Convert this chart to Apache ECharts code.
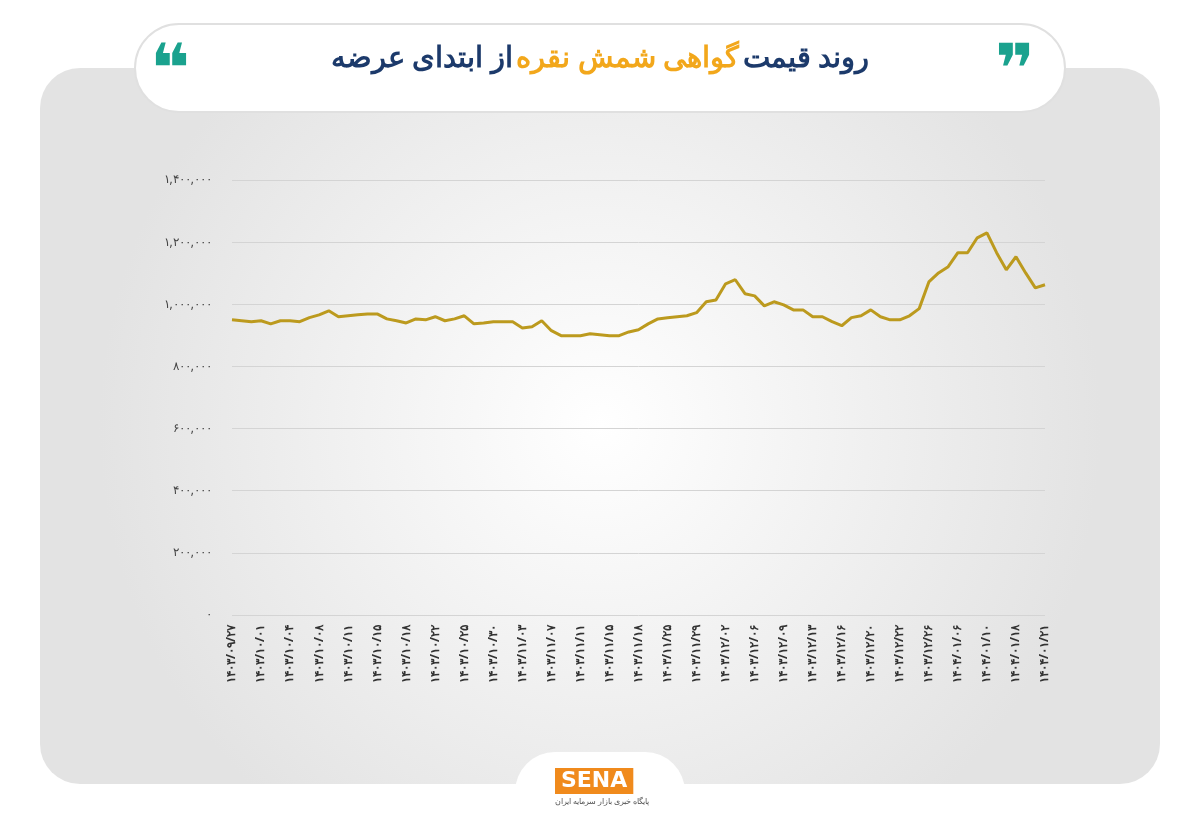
<!DOCTYPE html>
<html lang="fa">
<head>
<meta charset="UTF-8">
<title>روند قیمت گواهی شمش نقره</title>
<script src="https://cdn.jsdelivr.net/npm/echarts@6/dist/echarts.min.js"></script>
<style>
  html, body { margin: 0; padding: 0; background: #fff; }
  #main { width: 1200px; height: 831px; }
</style>
</head>
<body>
<div id="main"></div>
<script>
// x-axis labels (every 3rd point)
const tickLabels = [
  '۱۴۰۳/۰۹/۲۷','۱۴۰۳/۱۰/۰۱','۱۴۰۳/۱۰/۰۴','۱۴۰۳/۱۰/۰۸','۱۴۰۳/۱۰/۱۱','۱۴۰۳/۱۰/۱۵',
  '۱۴۰۳/۱۰/۱۸','۱۴۰۳/۱۰/۲۲','۱۴۰۳/۱۰/۲۵','۱۴۰۳/۱۰/۳۰','۱۴۰۳/۱۱/۰۳','۱۴۰۳/۱۱/۰۷',
  '۱۴۰۳/۱۱/۱۱','۱۴۰۳/۱۱/۱۵','۱۴۰۳/۱۱/۱۸','۱۴۰۳/۱۱/۲۵','۱۴۰۳/۱۱/۲۹','۱۴۰۳/۱۲/۰۲',
  '۱۴۰۳/۱۲/۰۶','۱۴۰۳/۱۲/۰۹','۱۴۰۳/۱۲/۱۳','۱۴۰۳/۱۲/۱۶','۱۴۰۳/۱۲/۲۰','۱۴۰۳/۱۲/۲۲',
  '۱۴۰۳/۱۲/۲۶','۱۴۰۴/۰۱/۰۶','۱۴۰۴/۰۱/۱۰','۱۴۰۴/۰۱/۱۸','۱۴۰۴/۰۱/۲۱'
];

// price values (rial)
const prices = [
  950000, 947000, 944000, 947000, 937000, 947000, 947000, 944000, 957000, 966000,
  979000, 960000, 963000, 966000, 969000, 969000, 953000, 947000, 940000, 953000,
  950000, 960000, 947000, 953000, 963000, 937000, 940000, 944000, 944000, 944000,
  924000, 928000, 947000, 915000, 899000, 899000, 899000, 905000, 902000, 899000,
  899000, 911000, 918000, 937000, 953000, 957000, 960000, 963000, 973000, 1008000,
  1014000, 1066000, 1079000, 1034000, 1027000, 995000, 1008000, 998000, 982000, 982000,
  960000, 960000, 944000, 931000, 957000, 963000, 982000, 960000, 950000, 950000,
  963000, 986000, 1072000, 1101000, 1121000, 1166000, 1166000, 1214000, 1230000, 1166000,
  1111000, 1153000, 1101000, 1053000, 1063000
];

const categories = prices.map((v, i) => i % 3 === 0 ? tickLabels[i / 3] : '');

const faDigits = s => String(s).replace(/\d/g, d => '۰۱۲۳۴۵۶۷۸۹'[d]);
const fmt = v => v === 0 ? '۰' : faDigits(v.toLocaleString('en-US'));

const chart = echarts.init(document.getElementById('main'));
chart.setOption({
  backgroundColor: '#ffffff',
  animation: false,
  graphic: [
    { type: 'rect', z: -10, shape: { x: 40, y: 68, width: 1120, height: 716, r: 40 },
      style: { fill: new echarts.graphic.RadialGradient(0.5, 0.5, 0.7, [
        { offset: 0, color: '#ffffff' }, { offset: 1, color: '#e3e3e3' }]) } },
    { type: 'rect', z: 5, shape: { x: 135, y: 24, width: 930, height: 88, r: 44 },
      style: { fill: '#ffffff', stroke: '#e0e0e0', lineWidth: 2 } },
    { type: 'text', z: 6, left: 'center', top: 44,
      style: {
        text: '{a|از ابتدای عرضه} {b|گواهی شمش نقره} {a|روند قیمت}',
        rich: {
          a: { fontFamily: 'Noto Sans', fontSize: 29, fontWeight: 'bold', fill: '#1c3a6b' },
          b: { fontFamily: 'Noto Sans', fontSize: 29, fontWeight: 'bold', fill: '#f2a71b' }
        }
      } },
    { type: 'text', z: 6, left: 150, top: 40,
      style: { text: '❝', fontSize: 68, fontWeight: 'bold', fill: '#1aa28e', fontFamily: 'DejaVu Sans' } },
    { type: 'text', z: 6, left: 995, top: 40,
      style: { text: '❞', fontSize: 68, fontWeight: 'bold', fill: '#1aa28e', fontFamily: 'DejaVu Sans' } },
    { type: 'rect', z: 5, shape: { x: 515, y: 752, width: 170, height: 80, r: 40 },
      style: { fill: '#ffffff' } },
    { type: 'text', z: 6, left: 555, top: 768,
      style: { text: 'SENA', fontSize: 22, fontWeight: 'bold', fill: '#fff',
        backgroundColor: '#f08a1c', padding: [2, 6], fontFamily: 'DejaVu Sans', letterSpacing: 4 } },
    { type: 'text', z: 6, left: 555, top: 798,
      style: { text: 'پایگاه خبری بازار سرمایه ایران', fontSize: 8, fill: '#555', fontFamily: 'Noto Sans' } }
  ],
  grid: { left: 232, right: 155, top: 180, bottom: 216, containLabel: false },
  xAxis: {
    type: 'category',
    data: categories,
    boundaryGap: false,
    axisLine: { show: false },
    axisTick: { show: false },
    axisLabel: {
      interval: 2, rotate: 90, color: '#333', fontSize: 12, margin: 10,
      fontWeight: 'bold', fontFamily: 'Noto Sans'
    }
  },
  yAxis: {
    type: 'value',
    min: 0, max: 1400000, interval: 200000,
    axisLine: { show: false },
    axisTick: { show: false },
    splitLine: { lineStyle: { color: '#d4d4d4', width: 1 } },
    axisLabel: { formatter: fmt, color: '#444', fontSize: 12, margin: 20, fontFamily: 'Noto Sans' }
  },
  series: [{
    type: 'line',
    data: prices,
    showSymbol: false,
    lineStyle: { color: '#bc9a1e', width: 3 },
    itemStyle: { color: '#bc9a1e' }
  }]
});
</script>
</body>
</html>
